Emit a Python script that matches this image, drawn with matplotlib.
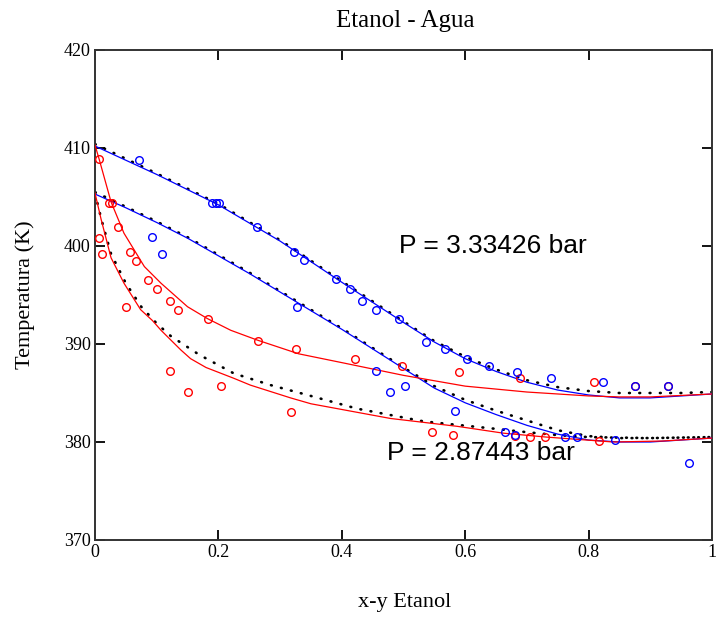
import matplotlib
matplotlib.use("Agg")
import matplotlib.pyplot as plt
import numpy as np

# ---- data ----
# P = 3.33426 bar
dew_hi_x = [0, 0.1, 0.2, 0.3, 0.4, 0.5, 0.55, 0.6, 0.65, 0.7, 0.75, 0.8, 0.85, 0.9, 0.95, 1.0]
dew_hi_T = [410.2, 407.3, 404.2, 400.5, 396.3, 392.2, 390.2, 388.5, 387.2, 386.1, 385.3, 384.8, 384.5, 384.5, 384.7, 384.9]
bub_hi_x = [0, 0.007, 0.026, 0.047, 0.08, 0.107, 0.15, 0.182, 0.22, 0.263, 0.33, 0.4, 0.5, 0.6, 0.7, 0.8, 0.85, 0.9, 1.0]
bub_hi_T = [410.3, 408.8, 404.5, 401.3, 397.9, 396.2, 393.8, 392.6, 391.4, 390.4, 389.0, 388.1, 386.8, 385.7, 385.1, 384.7, 384.6, 384.6, 384.9]
dew_hi_dot_x = [0, 0.1, 0.2, 0.3, 0.4, 0.5, 0.55, 0.6, 0.65, 0.7, 0.75, 0.8, 0.85, 0.9, 0.95, 1.0]
dew_hi_dot_T = [410.4, 407.4, 404.3, 400.6, 396.4, 392.3, 390.3, 388.7, 387.4, 386.3, 385.6, 385.2, 385.0, 385.0, 385.0, 385.1]

# P = 2.87443 bar
dew_lo_x = [0, 0.05, 0.1, 0.15, 0.2, 0.25, 0.3, 0.35, 0.4, 0.45, 0.5, 0.55, 0.6, 0.65, 0.7, 0.75, 0.8, 0.85, 0.9, 0.95, 1.0]
dew_lo_T = [405.3, 403.9, 402.4, 400.8, 399.0, 397.2, 395.3, 393.4, 391.5, 389.5, 387.5, 385.5, 384.0, 382.8, 381.7, 380.8, 380.2, 380.0, 380.0, 380.2, 380.4]
bub_lo_x = [0, 0.01, 0.026, 0.047, 0.074, 0.093, 0.107, 0.123, 0.139, 0.155, 0.18, 0.225, 0.252, 0.317, 0.35, 0.479, 0.587, 0.662, 0.732, 0.84, 0.92, 1.0]
bub_lo_T = [405.4, 402.7, 398.8, 396.2, 393.5, 392.4, 391.4, 390.4, 389.4, 388.5, 387.6, 386.5, 385.8, 384.5, 383.9, 382.4, 381.6, 380.9, 380.5, 380.0, 380.1, 380.4]
dew_lo_dot_x = [0, 0.05, 0.1, 0.15, 0.2, 0.25, 0.3, 0.35, 0.4, 0.45, 0.5, 0.55, 0.6, 0.65, 0.7, 0.75, 0.8, 0.85, 0.9, 1.0]
dew_lo_dot_T = [405.5, 404.0, 402.5, 400.9, 399.1, 397.3, 395.4, 393.5, 391.6, 389.6, 387.6, 385.7, 384.3, 383.2, 382.2, 381.2, 380.6, 380.4, 380.4, 380.5]
bub_lo_dot_x = [0, 0.01, 0.026, 0.05, 0.075, 0.1, 0.123, 0.169, 0.225, 0.285, 0.344, 0.425, 0.533, 0.641, 0.7, 0.75, 0.8, 0.9, 1.0]
bub_lo_dot_T = [405.4, 402.8, 399.2, 396.2, 393.8, 392.1, 390.8, 388.9, 387.0, 385.8, 384.8, 383.4, 382.1, 381.4, 381.0, 380.7, 380.5, 380.4, 380.5]

# experimental points
exp_y = [0.072, 0.19, 0.196, 0.201, 0.263, 0.092, 0.108, 0.323, 0.339, 0.328, 0.39, 0.413, 0.433, 0.456, 0.492,
         0.536, 0.568, 0.603, 0.638, 0.684, 0.739, 0.823, 0.875, 0.929,
         0.456, 0.502, 0.478, 0.583, 0.665, 0.681, 0.762, 0.781, 0.843, 0.962]
exp_Ty = [408.8, 404.4, 404.4, 404.4, 401.9, 400.9, 399.2, 399.4, 398.6, 393.8, 396.6, 395.6, 394.4, 393.5, 392.6,
          390.2, 389.5, 388.5, 387.8, 387.1, 386.5, 386.1, 385.7, 385.7,
          387.2, 385.7, 385.1, 383.2, 381.0, 380.7, 380.5, 380.5, 380.2, 377.9]
exp_x = [0.007, 0.022, 0.028, 0.038, 0.007, 0.012, 0.057, 0.067, 0.086, 0.101, 0.05, 0.121, 0.135, 0.183, 0.264,
         0.325, 0.121, 0.15, 0.204, 0.317, 0.421, 0.498, 0.59, 0.546, 0.581, 0.689, 0.808, 0.875, 0.929,
         0.681, 0.705, 0.73, 0.817]
exp_Tx = [408.85, 404.4, 404.4, 401.9, 400.85, 399.2, 399.4, 398.5, 396.5, 395.6, 393.8, 394.4, 393.5, 392.6, 390.3,
          389.5, 387.2, 385.1, 385.7, 383.1, 388.5, 387.8, 387.1, 381.0, 380.7, 386.5, 386.1, 385.7, 385.7,
          380.6, 380.5, 380.5, 380.15]

x_ticks = [0, 0.2, 0.4, 0.6, 0.8, 1.0]
x_tick_labels = ["0", "0.2", "0.4", "0.6", "0.8", "1"]
y_ticks = [370, 380, 390, 400, 410, 420]
y_tick_labels = ["370", "380", "390", "400", "410", "420"]

title = "Etanol - Agua"
xlabel = "x-y Etanol"
ylabel = "Temperatura (K)"
label_hi = "P = 3.33426 bar"
label_lo = "P = 2.87443 bar"

# ---- drawing ----
fig = plt.figure(figsize=(7.19, 6.21), dpi=100)
ax = fig.add_axes([95 / 719, 81 / 621, 617 / 719, 490 / 621])

dot_style = dict(color="black", lw=1.9, ls=(0, (0.3, 3.6)), dash_capstyle="round", zorder=2)
ax.plot(dew_hi_dot_x, dew_hi_dot_T, **dot_style)
ax.plot(dew_lo_dot_x, dew_lo_dot_T, **dot_style)
ax.plot(bub_lo_dot_x, bub_lo_dot_T, **dot_style)

ax.plot(dew_hi_x, dew_hi_T, color="#0000ff", lw=0.9, zorder=3)
ax.plot(dew_lo_x, dew_lo_T, color="#0000ff", lw=0.9, zorder=3)
ax.plot(bub_hi_x, bub_hi_T, color="#ff0000", lw=0.9, zorder=3)
ax.plot(bub_lo_x, bub_lo_T, color="#ff0000", lw=0.9, zorder=3)

ax.plot(exp_x, exp_Tx, ls="none", marker="o", ms=5.5, mfc="none", mec="#ff0000", mew=1.0, zorder=4)
ax.plot(exp_y, exp_Ty, ls="none", marker="o", ms=5.5, mfc="none", mec="#0000ff", mew=1.0, zorder=4)

ax.text(0.492, 400.0, label_hi, fontsize=19, family="Liberation Sans", va="center", ha="left", color="black")
ax.text(0.4725, 378.9, label_lo, fontsize=19, family="Liberation Sans", va="center", ha="left", color="black")

ax.set_xlim(0, 1)
ax.set_ylim(370, 420)
ax.set_xticks(x_ticks)
ax.set_xticklabels(x_tick_labels)
ax.set_yticks(y_ticks)
ax.set_yticklabels(y_tick_labels)
ax.tick_params(direction="in", length=7, width=1.3, top=True, right=True,
               labelsize=13, pad=3, colors="black")
for lab in ax.get_xticklabels() + ax.get_yticklabels():
    lab.set_family("Liberation Serif")
for s in ax.spines.values():
    s.set_linewidth(1.4)
    s.set_color("#333333")

fig.text(405 / 719, 1 - 21 / 621, title, fontsize=18, family="Liberation Serif", ha="center", va="center")
fig.text(405 / 719, 1 - 603 / 621, xlabel, fontsize=16, family="Liberation Serif", ha="center", va="center")
fig.text(25 / 719, 1 - 295 / 621, ylabel, fontsize=16, family="Liberation Serif", ha="center", va="center", rotation=90)

fig.savefig("out.png", dpi=100)
